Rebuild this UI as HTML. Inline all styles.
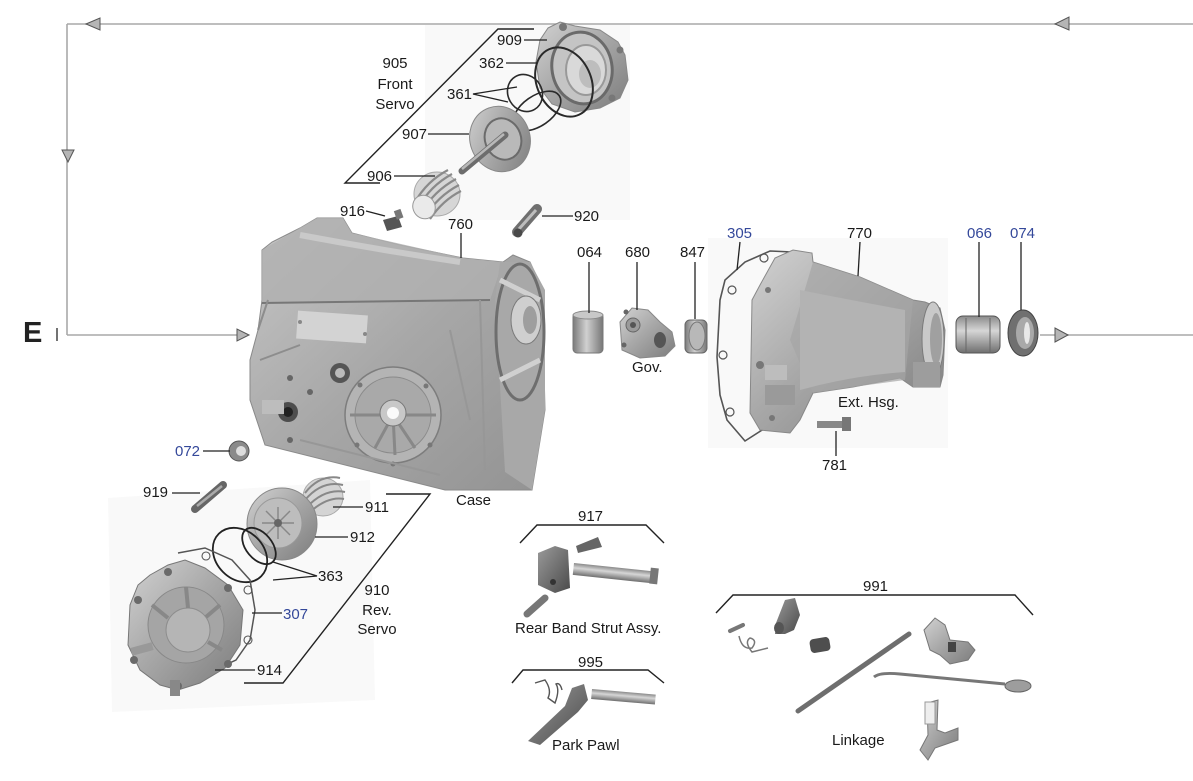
<!DOCTYPE html>
<html><head><meta charset="utf-8">
<style>
html,body{margin:0;padding:0;background:#fff;}
svg{display:block;}
text{font-family:"Liberation Sans",Arial,sans-serif;font-size:15px;fill:#1a1a1a;}
.b{fill:#34489a;}
.ld{stroke:#222;stroke-width:1.3;fill:none;}
.br{stroke:#222;stroke-width:1.4;fill:none;}
</style></head>
<body>
<svg width="1193" height="781" viewBox="0 0 1193 781" xmlns="http://www.w3.org/2000/svg">
<defs>
<linearGradient id="m" x1="0" y1="0" x2="1" y2="1">
<stop offset="0" stop-color="#d2d2d2"/><stop offset="0.45" stop-color="#a9a9a9"/><stop offset="1" stop-color="#7c7c7c"/></linearGradient>
<linearGradient id="mc" x1="0" y1="0" x2="1" y2="1">
<stop offset="0" stop-color="#c6c6c6"/><stop offset="0.5" stop-color="#a7a7a7"/><stop offset="1" stop-color="#939393"/></linearGradient>
<linearGradient id="mv" x1="0" y1="0" x2="0" y2="1">
<stop offset="0" stop-color="#8a8a8a"/><stop offset="0.4" stop-color="#d6d6d6"/><stop offset="1" stop-color="#6f6f6f"/></linearGradient>
<linearGradient id="mh" x1="0" y1="0" x2="1" y2="0">
<stop offset="0" stop-color="#7a7a7a"/><stop offset="0.45" stop-color="#d0d0d0"/><stop offset="1" stop-color="#777"/></linearGradient>
<linearGradient id="dk" x1="0" y1="0" x2="1" y2="1">
<stop offset="0" stop-color="#9a9a9a"/><stop offset="1" stop-color="#4a4a4a"/></linearGradient>
</defs>

<!-- faint photo backgrounds -->
<rect x="425" y="25" width="205" height="195" fill="#f9f9f9"/>
<rect x="708" y="238" width="240" height="210" fill="#f9f9f9"/>
<polygon points="108,498 370,480 375,700 112,712" fill="#f9f9f9"/>

<!-- flow lines -->
<g stroke="#a8a8a8" stroke-width="1.6" fill="none">
<line x1="67" y1="24" x2="1193" y2="24"/>
<line x1="67" y1="24" x2="67" y2="335"/>
<line x1="67" y1="335" x2="248" y2="335"/>
<line x1="1040" y1="335" x2="1193" y2="335"/>
</g>
<g fill="#b5b5b5" stroke="#555" stroke-width="1">
<polygon points="86,24 100,18 100,30"/>
<polygon points="1055,24 1069,17 1069,30"/>
<polygon points="62,150 74,150 68,162"/>
<polygon points="249,335 237,329 237,341"/>
<polygon points="1068,335 1055,328 1055,342"/>
</g>
<text x="23" y="342" style="font-size:29px;font-weight:bold;fill:#222">E</text>
<line x1="57" y1="328" x2="57" y2="341" stroke="#444" stroke-width="1.5"/>

<!-- ============ FRONT SERVO ============ -->
<g>
<path d="M548,28 L560,22 L575,26 L600,30 L618,42 L625,55 L628,80 L620,98 L600,108 L575,112 L552,104 L540,88 L536,62 L540,40 Z" fill="url(#m)" stroke="#888" stroke-width="1"/>
<ellipse cx="582" cy="68" rx="30" ry="36" fill="#c4c4c4" stroke="#6a6a6a" stroke-width="3" transform="rotate(-10 582 68)"/>
<ellipse cx="586" cy="70" rx="20" ry="25" fill="#d9d9d9" stroke="#999" stroke-width="2"/>
<ellipse cx="590" cy="74" rx="11" ry="14" fill="#bdbdbd"/>
<circle cx="563" cy="27" r="4" fill="#777"/>
<circle cx="620" cy="50" r="3.5" fill="#777"/>
<circle cx="612" cy="98" r="3.5" fill="#777"/>
</g>
<ellipse cx="564" cy="82" rx="27" ry="36" fill="none" stroke="#2a2a2a" stroke-width="2" transform="rotate(-25 564 82)"/>
<ellipse cx="525" cy="93" rx="17" ry="19" fill="none" stroke="#2a2a2a" stroke-width="1.6" transform="rotate(-30 525 93)"/>
<ellipse cx="537" cy="111" rx="27" ry="15" fill="none" stroke="#2a2a2a" stroke-width="1.6" transform="rotate(-35 537 111)"/>
<g>
<ellipse cx="500" cy="139" rx="30" ry="33" fill="url(#m)" stroke="#888" transform="rotate(-20 500 139)"/>
<ellipse cx="503" cy="139" rx="18" ry="21" fill="#b9b9b9" stroke="#6b6b6b" stroke-width="2" transform="rotate(-20 503 139)"/>
<line x1="505" y1="135" x2="462" y2="171" stroke="#6d6d6d" stroke-width="7" stroke-linecap="round"/>
<line x1="504" y1="134" x2="462" y2="169" stroke="#b8b8b8" stroke-width="2.5"/>
</g>
<g>
<ellipse cx="437" cy="194" rx="23" ry="22" fill="#d6d6d6" stroke="#aaa"/>
<g stroke="#8a8a8a" stroke-width="2.2" fill="none">
<path d="M418,208 Q430,186 452,174"/><path d="M421,213 Q434,191 456,179"/>
<path d="M425,217 Q438,196 459,185"/><path d="M415,202 Q427,181 448,170"/>
<path d="M430,219 Q443,200 461,191"/>
</g>
<ellipse cx="424" cy="207" rx="11" ry="12" fill="#eaeaea" stroke="#999" transform="rotate(-30 424 207)"/>
</g>
<polyline class="br" points="534,29 498,29 345,183 380,183"/>
<text x="395" y="68" text-anchor="middle">905</text>
<text x="395" y="89" text-anchor="middle">Front</text>
<text x="395" y="109" text-anchor="middle">Servo</text>
<text x="497" y="45">909</text><line class="ld" x1="524" y1="40" x2="547" y2="40"/>
<text x="479" y="68">362</text><line class="ld" x1="506" y1="63" x2="537" y2="63"/>
<text x="447" y="99">361</text><polyline class="ld" points="517,87 473,94 508,102"/>
<text x="402" y="139">907</text><line class="ld" x1="428" y1="134" x2="469" y2="134"/>
<text x="367" y="181">906</text><line class="ld" x1="394" y1="176" x2="435" y2="176"/>

<g>
<polygon points="383,220 398,216 402,227 387,231" fill="#555"/>
<rect x="395" y="210" width="7" height="9" fill="#777" transform="rotate(-20 398 214)"/>
</g>
<text x="340" y="216">916</text><line class="ld" x1="366" y1="211" x2="385" y2="216"/>
<g>
<line x1="517" y1="232" x2="537" y2="209" stroke="#707070" stroke-width="10" stroke-linecap="round"/>
<line x1="519" y1="229" x2="536" y2="210" stroke="#bdbdbd" stroke-width="3"/>
<circle cx="518" cy="233" r="4.5" fill="#4a4a4a"/>
</g>
<text x="574" y="221">920</text><line class="ld" x1="542" y1="216" x2="573" y2="216"/>

<!-- ============ CASE ============ -->
<g>
<polygon points="262,250 272,242 300,228 317,218 343,218 352,233 400,245 463,258 503,262 513,255 530,262 542,288 545,410 532,490 445,490 265,445 250,400 250,360 258,330 262,300" fill="url(#mc)" stroke="#8a8a8a"/>
<polygon points="262,250 317,218 343,218 352,233 463,258 503,262 490,300 262,303" fill="#b0b0b0" opacity="0.8"/>
<path d="M262,303 L490,300" stroke="#777" stroke-width="2" fill="none"/>
<path d="M300,235 Q380,250 460,262" stroke="#c9c9c9" stroke-width="6" fill="none"/>
<polygon points="500,262 530,262 545,290 545,410 532,490 505,472 495,300" fill="#a8a8a8"/>
<ellipse cx="520" cy="332" rx="24" ry="68" fill="none" stroke="#6e6e6e" stroke-width="3"/>
<path d="M500,280 L540,300 M500,380 L540,360" stroke="#d0d0d0" stroke-width="5"/>
<ellipse cx="526" cy="320" rx="15" ry="24" fill="#cfcfcf" stroke="#7a7a7a"/>
<ellipse cx="530" cy="320" rx="7" ry="14" fill="#9e9e9e"/>
<rect x="297" y="313" width="70" height="28" fill="#d3d3d3" transform="rotate(4 332 327)"/>
<circle cx="300" cy="322" r="2" fill="#888"/><circle cx="365" cy="334" r="2" fill="#888"/>
<circle cx="393" cy="415" r="48" fill="#b4b4b4" stroke="#7d7d7d" stroke-width="1.5"/>
<circle cx="393" cy="415" r="38" fill="#a9a9a9" stroke="#8a8a8a"/>
<g stroke="#888" stroke-width="3"><line x1="393" y1="415" x2="375" y2="448"/><line x1="393" y1="415" x2="395" y2="455"/><line x1="393" y1="415" x2="415" y2="448"/><line x1="350" y1="415" x2="436" y2="415"/></g>
<circle cx="393" cy="413" r="13" fill="#c8c8c8" stroke="#777"/>
<circle cx="393" cy="413" r="6" fill="#fafafa"/>
<g fill="#777"><circle cx="360" cy="385" r="2.5"/><circle cx="426" cy="386" r="2.5"/><circle cx="430" cy="445" r="2.5"/><circle cx="357" cy="445" r="2.5"/><circle cx="393" cy="464" r="2.5"/></g>
<circle cx="340" cy="373" r="10" fill="#555"/><circle cx="340" cy="373" r="5" fill="#bbb"/>
<circle cx="288" cy="412" r="10" fill="#4d4d4d"/><circle cx="288" cy="412" r="5" fill="#222"/>
<rect x="262" y="400" width="22" height="14" fill="#bdbdbd"/>
<circle cx="290" cy="378" r="3" fill="#666"/><circle cx="310" cy="392" r="3" fill="#666"/>
<circle cx="290" cy="440" r="3" fill="#666"/>
<path d="M258,330 L268,300 M260,360 L300,345" stroke="#8d8d8d" stroke-width="2"/>
<path d="M450,330 L470,420 M480,300 L485,470 M300,440 L440,475" stroke="#979797" stroke-width="2" fill="none"/>
</g>
<text x="448" y="229">760</text><line class="ld" x1="461" y1="233" x2="461" y2="258"/>
<text x="456" y="505">Case</text>

<!-- ============ GOVERNOR ROW ============ -->
<rect x="573" y="313" width="30" height="40" rx="4" fill="url(#mh)" stroke="#777"/>
<ellipse cx="588" cy="315" rx="15" ry="4" fill="#c8c8c8" stroke="#888"/>
<text x="577" y="257">064</text><line class="ld" x1="589" y1="262" x2="589" y2="313"/>

<g>
<path d="M620,322 L632,308 L648,310 L660,322 L672,332 L675,346 L665,356 L640,358 L622,350 Z" fill="url(#m)" stroke="#888"/>
<circle cx="633" cy="325" r="7" fill="#9a9a9a" stroke="#666"/><circle cx="633" cy="325" r="3" fill="#555"/>
<ellipse cx="660" cy="340" rx="6" ry="8" fill="#555"/>
<circle cx="626" cy="312" r="2.5" fill="#666"/><circle cx="624" cy="345" r="2.5" fill="#666"/>
</g>
<text x="625" y="257">680</text><line class="ld" x1="637" y1="262" x2="637" y2="310"/>
<text x="632" y="372">Gov.</text>

<rect x="685" y="320" width="22" height="33" rx="5" fill="url(#mh)" stroke="#666"/>
<ellipse cx="697" cy="336" rx="8" ry="14" fill="#b8b8b8" stroke="#777"/>
<text x="680" y="257">847</text><line class="ld" x1="695" y1="262" x2="695" y2="319"/>

<path d="M770,251 L792,252 L790,300 L770,425 L745,441 L727,420 L720,395 L717,357 L720,300 L725,280 L745,262 Z" fill="none" stroke="#555" stroke-width="1.6"/>
<g fill="none" stroke="#555" stroke-width="1.2"><circle cx="732" cy="290" r="4"/><circle cx="723" cy="355" r="4"/><circle cx="730" cy="412" r="4"/><circle cx="764" cy="258" r="4"/></g>
<g>
<path d="M760,285 L775,258 L793,250 L812,253 L813,262 L860,277 L913,300 L925,302 L940,308 L945,330 L943,375 L940,387 L913,387 L900,378 L853,387 L813,393 L800,420 L790,433 L760,430 L750,413 L752,300 Z" fill="url(#m)" stroke="#888"/>
<path d="M813,262 L860,277 L913,300 L905,380 L853,387 L813,393 L790,340 Z" fill="#a5a5a5" opacity="0.7"/>
<path d="M800,290 Q850,300 905,310 L905,372 Q850,376 800,390 Z" fill="#b3b3b3"/>
<ellipse cx="933" cy="339" rx="11" ry="37" fill="#c9c9c9" stroke="#7a7a7a"/>
<ellipse cx="936" cy="339" rx="6" ry="26" fill="#a0a0a0"/>
<rect x="913" y="362" width="27" height="25" fill="#9d9d9d"/>
<g fill="#777"><circle cx="768" cy="290" r="3"/><circle cx="760" cy="365" r="4"/><circle cx="772" cy="418" r="3"/></g>
<rect x="765" y="365" width="22" height="15" fill="#bdbdbd"/>
<rect x="765" y="385" width="30" height="20" fill="#9a9a9a"/>
</g>
<text x="727" y="238" class="b">305</text><line class="ld" x1="740" y1="242" x2="737" y2="270"/>
<text x="847" y="238">770</text><line class="ld" x1="860" y1="242" x2="858" y2="276"/>
<text x="838" y="407">Ext. Hsg.</text>
<g>
<rect x="817" y="421" width="26" height="7" fill="#888"/>
<rect x="842" y="417" width="9" height="14" fill="#777"/>
</g>
<text x="822" y="470">781</text><line class="ld" x1="836" y1="431" x2="836" y2="456"/>

<rect x="956" y="316" width="44" height="37" rx="7" fill="url(#mv)" stroke="#555"/>
<line x1="966" y1="318" x2="966" y2="352" stroke="#666"/><line x1="990" y1="318" x2="990" y2="352" stroke="#666"/>
<text x="967" y="238" class="b">066</text><line class="ld" x1="979" y1="242" x2="979" y2="317"/>
<ellipse cx="1023" cy="333" rx="15" ry="23" fill="#707070" stroke="#444"/>
<ellipse cx="1025" cy="333" rx="9" ry="16" fill="#a9a9a9"/>
<ellipse cx="1027" cy="333" rx="3" ry="11" fill="#e8e8e8"/>
<text x="1010" y="238" class="b">074</text><line class="ld" x1="1021" y1="242" x2="1021" y2="310"/>

<!-- ============ REVERSE SERVO ============ -->
<g>
<circle cx="239" cy="451" r="10" fill="#8a8a8a" stroke="#555"/><circle cx="241" cy="451" r="5" fill="#ddd"/>
</g>
<text x="175" y="456" class="b">072</text><line class="ld" x1="203" y1="451" x2="230" y2="451"/>
<line x1="195" y1="509" x2="223" y2="485" stroke="#666" stroke-width="8" stroke-linecap="round"/>
<line x1="197" y1="506" x2="222" y2="486" stroke="#aaa" stroke-width="2.5"/>
<text x="143" y="497">919</text><line class="ld" x1="172" y1="493" x2="200" y2="493"/>

<g>
<ellipse cx="323" cy="497" rx="20" ry="19" fill="#d4d4d4" stroke="#aaa"/>
<g stroke="#888" stroke-width="2" fill="none">
<path d="M305,493 Q320,474 340,478"/><path d="M305,500 Q322,480 343,485"/>
<path d="M307,507 Q325,488 345,492"/><path d="M310,512 Q328,496 344,499"/>
</g>
</g>
<ellipse cx="282" cy="524" rx="35" ry="36" fill="url(#m)" stroke="#888"/>
<ellipse cx="278" cy="523" rx="24" ry="25" fill="#bdbdbd" stroke="#999"/>
<g stroke="#888" stroke-width="1.5"><line x1="262" y1="523" x2="294" y2="523"/><line x1="278" y1="507" x2="278" y2="539"/><line x1="266" y1="511" x2="290" y2="535"/><line x1="290" y1="511" x2="266" y2="535"/></g>
<circle cx="278" cy="523" r="4" fill="#666"/>
<ellipse cx="240" cy="555" rx="30" ry="24" fill="none" stroke="#222" stroke-width="1.8" transform="rotate(45 240 555)"/>
<ellipse cx="259" cy="546" rx="21" ry="13" fill="none" stroke="#222" stroke-width="1.8" transform="rotate(50 259 546)"/>
<path d="M178,553 L205,548 L232,560 L250,580 L255,610 L250,640 L236,660 L210,672" fill="none" stroke="#555" stroke-width="1.5"/>
<g fill="none" stroke="#555" stroke-width="1.1"><circle cx="206" cy="556" r="4"/><circle cx="248" cy="590" r="4"/><circle cx="248" cy="640" r="4"/></g>
<g>
<path d="M150,575 L168,565 L185,560 L205,568 L228,585 L243,610 L240,645 L225,668 L200,683 L178,690 L160,685 L140,670 L128,645 L130,605 L138,585 Z" fill="url(#m)" stroke="#777"/>
<circle cx="186" cy="625" r="38" fill="#a5a5a5" stroke="#888"/>
<circle cx="188" cy="630" r="22" fill="#b5b5b5" stroke="#8d8d8d"/>
<g stroke="#888" stroke-width="4"><line x1="186" y1="587" x2="188" y2="608"/><line x1="220" y1="605" x2="206" y2="617"/><line x1="152" y1="605" x2="168" y2="618"/><line x1="222" y1="650" x2="208" y2="642"/></g>
<g fill="#6a6a6a"><circle cx="168" cy="572" r="4"/><circle cx="228" cy="588" r="4"/><circle cx="138" cy="600" r="4"/><circle cx="134" cy="660" r="4"/><circle cx="178" cy="686" r="4"/><circle cx="228" cy="664" r="4"/></g>
<rect x="131" y="645" width="22" height="8" fill="#999" transform="rotate(-15 142 649)"/>
<rect x="170" y="680" width="10" height="16" fill="#888"/>
</g>
<polyline class="br" points="386,494 430,494 283,683 244,683"/>
<text x="377" y="595" text-anchor="middle">910</text>
<text x="377" y="615" text-anchor="middle">Rev.</text>
<text x="377" y="634" text-anchor="middle">Servo</text>
<text x="365" y="512">911</text><line class="ld" x1="333" y1="507" x2="363" y2="507"/>
<text x="350" y="542">912</text><line class="ld" x1="315" y1="537" x2="348" y2="537"/>
<text x="318" y="581">363</text><polyline class="ld" points="273,562 317,576 273,580"/>
<text x="283" y="619" class="b">307</text><line class="ld" x1="252" y1="613" x2="282" y2="613"/>
<text x="257" y="675">914</text><line class="ld" x1="215" y1="670" x2="255" y2="670"/>

<!-- ============ 917 ============ -->
<polyline class="br" points="520,543 537,525 646,525 664,543"/>
<text x="578" y="521">917</text>
<path d="M538,553 L555,546 L568,550 L570,588 L555,593 L538,585 Z" fill="url(#dk)"/>
<circle cx="553" cy="582" r="3" fill="#333"/>
<polygon points="576,546 598,537 602,547 578,553" fill="#666"/>
<rect x="574" y="563" width="80" height="12" fill="url(#mv)" transform="rotate(6 574 563)"/>
<rect x="650" y="568" width="8" height="16" fill="#777" transform="rotate(6 654 576)"/>
<line x1="527" y1="614" x2="545" y2="598" stroke="#777" stroke-width="7" stroke-linecap="round"/>
<text x="515" y="633">Rear Band Strut Assy.</text>

<!-- ============ 995 ============ -->
<polyline class="br" points="512,683 523,670 648,670 664,683"/>
<text x="578" y="667">995</text>
<path d="M528,741 L565,706 L572,688 L584,684 L588,700 L578,712 L540,745 Z" fill="url(#dk)"/>
<path d="M535,683 L545,680 Q552,690 548,698 L555,703 Q560,690 556,684 Q560,682 562,690" stroke="#555" stroke-width="1.4" fill="none"/>
<rect x="592" y="689" width="64" height="10" fill="url(#mv)" transform="rotate(5 592 689)"/>
<text x="552" y="750">Park Pawl</text>

<!-- ============ 991 ============ -->
<polyline class="br" points="716,613 733,595 1015,595 1033,615"/>
<text x="863" y="591">991</text>
<line x1="730" y1="631" x2="743" y2="625" stroke="#777" stroke-width="4" stroke-linecap="round"/>
<path d="M739,636 Q742,650 752,648 Q758,640 750,638 Q744,642 752,652 L768,648" stroke="#777" stroke-width="1.5" fill="none"/>
<path d="M776,623 L785,600 L795,598 L800,615 L794,630 L785,634 L775,634 Z" fill="url(#dk)"/>
<ellipse cx="779" cy="628" rx="5" ry="6" fill="#555"/>
<rect x="810" y="638" width="20" height="14" rx="4" fill="#4e4e4e" transform="rotate(-10 820 645)"/>
<line x1="798" y1="711" x2="909" y2="634" stroke="#6e6e6e" stroke-width="5" stroke-linecap="round"/>
<path d="M924,630 L935,618 L945,625 L950,640 L968,642 L975,650 L968,660 L950,664 L940,655 L930,650 Z" fill="url(#m)" stroke="#777"/>
<rect x="948" y="642" width="8" height="10" fill="#444"/>
<path d="M874,677 Q880,672 900,674 L1005,684" stroke="#777" stroke-width="3" fill="none"/>
<ellipse cx="1018" cy="686" rx="13" ry="6" fill="#9d9d9d" stroke="#666"/>
<path d="M927,703 L938,700 L937,730 L945,733 L958,728 L958,740 L935,748 L928,760 L920,750 L928,735 Z" fill="url(#m)" stroke="#777"/>
<rect x="925" y="702" width="10" height="22" fill="#eee" stroke="#999"/>
<text x="832" y="745">Linkage</text>
</svg>
</body></html>
